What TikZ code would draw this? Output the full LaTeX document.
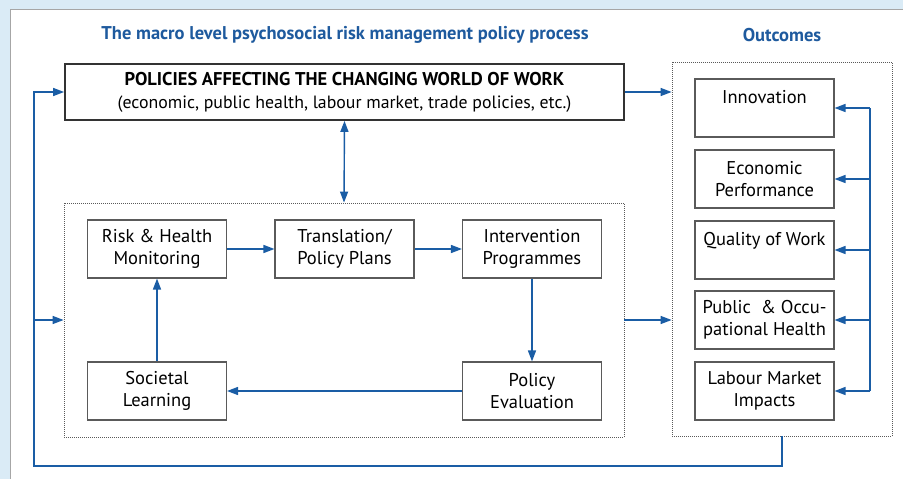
\documentclass[tikz,border=0pt]{standalone}
\usepackage{fontspec}
\setmainfont{PT Sans}
\usetikzlibrary{arrows.meta,positioning}

\definecolor{linkblue}{HTML}{1A5DA5}
\definecolor{titleblue}{HTML}{1E5A9E}
\definecolor{boxgray}{HTML}{5A5A5A}
\definecolor{bgblue}{HTML}{DAEBF6}

\tikzset{
    box/.style={draw=boxgray, line width=1.1pt, fill=white, inner sep=0pt,
        minimum width=139pt, minimum height=58pt, align=center,
        font=\fontsize{18.5}{22}\selectfont},
    frame/.style={draw=boxgray, line width=0.8pt, dash pattern=on 1pt off 1pt, inner sep=0pt},
    flow/.style={draw=linkblue, line width=1.4pt, -{Triangle[length=11pt,width=8pt]}},
    rail/.style={draw=linkblue, line width=1.4pt},
    heading/.style={text=titleblue, font=\bfseries\fontsize{18.5}{20}\selectfont}
}

\begin{document}
\begin{tikzpicture}[x=1pt, y=-1pt]
\useasboundingbox (0,0) rectangle (903,479);
% background and panel
\fill[bgblue] (0,0) rectangle (903,479);
\filldraw[fill=white, draw=gray!70, line width=1pt] (10,9) rectangle (930,500);

% headings
\node[heading] (head) at (345,35) {The macro level psychosocial risk management policy process};
\node[heading] (outhead) at (782,35) {Outcomes};

% policy box
\node[draw=black!80, line width=1.8pt, fill=white, minimum width=559pt, minimum height=56pt,
    inner sep=0pt, align=center, font=\fontsize{17.8}{23}\selectfont] (pol) at (344.5,92)
    {{\bfseries\fontsize{18.5}{23}\selectfont POLICIES AFFECTING THE CHANGING WORLD OF WORK}\\
     (economic, public health, labour market, trade policies, etc.)};

% dotted frames
\node[frame, minimum width=560pt, minimum height=234pt] (inner) at (344,320) {};
\node[frame, minimum width=220pt, minimum height=374pt] (outc) at (782,249) {};

% process
\node[box] (risk) at (157,249) {Risk \& Health\\Monitoring};
\node[box] (trans) at (344.5,249) {Translation/\\Policy Plans};
\node[box] (interv) at (532,249) {Intervention\\Programmes};
\node[box] (learn) at (157,391) {Societal\\Learning};
\node[box] (eval) at (532,391) {Policy\\Evaluation};

% outcomes
\node[box] (inno) at (764.5,108) {Innovation\\~};
\node[box] (econ) at (764.5,179) {Economic\\Performance};
\node[box] (qual) at (764.5,250) {Quality of Work\\~};
\node[box] (pub) at (764.5,320) {Public \ \& Occu-\\pational Health};
\node[box] (lab) at (764.5,391) {Labour Market\\Impacts};

% links
\draw[flow] (risk) -- (trans);
\draw[flow] (trans) -- (interv);
\draw[flow] (interv) -- (eval);
\draw[flow] (eval) -- (learn);
\draw[flow] (learn) -- (risk);
\draw[flow, {Triangle[length=11pt,width=8pt]}-{Triangle[length=11pt,width=8pt]}] (pol.south) -- (inner.north);
\draw[flow] (pol.east) -- (outc.west |- pol.east);
\draw[flow] (inner.east) -- (outc.west |- inner.east);

% feedback rail on the right
\coordinate (railx) at (870,0);
\draw[rail] (railx |- inno.east) -- (railx |- lab.east);
\foreach \n in {inno,econ,qual,pub,lab}
    \draw[flow] (railx |- \n.east) -- (\n.east);

% loop back from outcomes
\coordinate (loopL) at (34,466);
\draw[flow] (outc.south) |- (loopL) |- (pol.west);
\draw[flow] (loopL |- inner.west) -- (inner.west);
\end{tikzpicture}
\end{document}
